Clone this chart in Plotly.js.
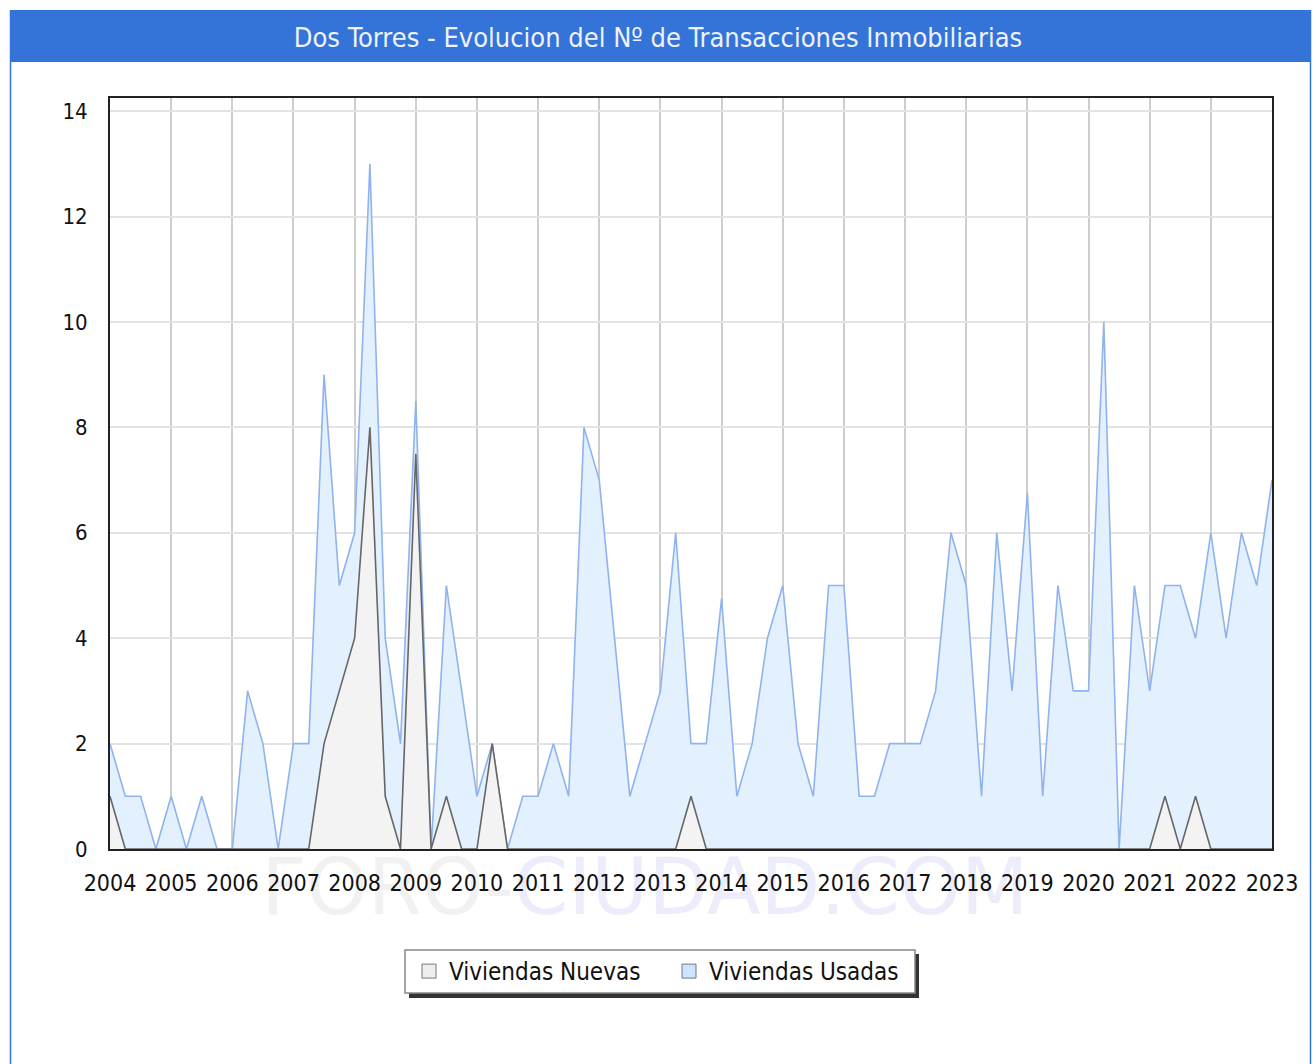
<!DOCTYPE html>
<html>
<head>
<meta charset="utf-8">
<script src="https://cdn.plot.ly/plotly-3.0.1.min.js"></script>
<style>
html,body{margin:0;padding:0;background:#fff;}
#wrap{position:relative;width:1316px;height:1064px;}
#watermark{position:absolute;left:0;top:842px;width:1290px;text-align:center;
  font-family:"DejaVu Sans",sans-serif;font-size:78px;line-height:90px;color:#f1f1f1;z-index:0;white-space:nowrap;}
#watermark span{color:#ececfb;}
#chart{position:absolute;left:0;top:0;width:1316px;height:1064px;z-index:1;}
</style>
</head>
<body>
<div id="wrap">
<div id="watermark">FORO-<span>CIUDAD.COM</span></div>
<div id="chart"></div>
</div>
<script>
// Quarterly periods (x positions in years)
const periods = [
 2004.00,2004.25,2004.50,2004.75,2005.00,2005.25,2005.50,2005.75,
 2006.00,2006.25,2006.50,2006.75,2007.00,2007.25,2007.50,2007.75,
 2008.00,2008.25,2008.50,2008.75,2009.00,2009.25,2009.50,2009.75,
 2010.00,2010.25,2010.50,2010.75,2011.00,2011.25,2011.50,2011.75,
 2012.00,2012.25,2012.50,2012.75,2013.00,2013.25,2013.50,2013.75,
 2014.00,2014.25,2014.50,2014.75,2015.00,2015.25,2015.50,2015.75,
 2016.00,2016.25,2016.50,2016.75,2017.00,2017.25,2017.50,2017.75,
 2018.00,2018.25,2018.50,2018.75,2019.00,2019.25,2019.50,2019.75,
 2020.00,2020.25,2020.50,2020.75,2021.00,2021.25,2021.50,2021.75,
 2022.00,2022.25,2022.50,2022.75,2023.00
];

const viviendasUsadas = [
 2,1,1,0,1,0,1,0,
 0,3,2,0,2,2,9,5,
 6,13,4,2,8.5,0,5,3,
 1,2,0,1,1,2,1,8,
 7,4,1,2,3,6,2,2,
 4.75,1,2,4,5,2,1,5,
 5,1,1,2,2,2,3,6,
 5,1,6,3,6.75,1,5,3,
 3,10,0,5,3,5,5,4,
 6,4,6,5,7
];

const viviendasNuevas = [
 1,0,0,0,0,0,0,0,
 0,0,0,0,0,0,2,3,
 4,8,1,0,7.5,0,1,0,
 0,2,0,0,0,0,0,0,
 0,0,0,0,0,0,1,0,
 0,0,0,0,0,0,0,0,
 0,0,0,0,0,0,0,0,
 0,0,0,0,0,0,0,0,
 0,0,0,0,0,1,0,1,
 0,0,0,0,0
];

const yearTicks = [2004,2005,2006,2007,2008,2009,2010,2011,2012,2013,2014,2015,2016,2017,2018,2019,2020,2021,2022,2023];
const seriesNames = ['Viviendas Nuevas','Viviendas Usadas'];
const chartTitle = 'Dos Torres - Evolucion del Nº de Transacciones Inmobiliarias';

// layout geometry (pixels)
const W = 1316, H = 1064;
const PL = 110, PR = 1272, PT = 98, PB = 849;
const px = v => (v - PL) / (PR - PL);
const py = v => (PB - v) / (PB - PT);

const FONT = '"DejaVu Sans Condensed", "DejaVu Sans", sans-serif';

const traces = [
  {
    x: periods, y: viviendasUsadas, name: seriesNames[1], showlegend: false,
    type: 'scatter', mode: 'lines', fill: 'tozeroy',
    line: {color: '#8fb3ee', width: 1.6},
    fillcolor: '#e3f0fd'
  },
  {
    x: periods, y: viviendasNuevas, name: seriesNames[0], showlegend: false,
    type: 'scatter', mode: 'lines', fill: 'tozeroy',
    line: {color: '#666666', width: 1.6},
    fillcolor: '#f3f3f3'
  },
  // legend swatches
  {
    x: [null], y: [null], name: seriesNames[0], type: 'scatter', mode: 'markers',
    marker: {symbol: 'square', size: 14, color: '#eeeeee', line: {color: '#777777', width: 1}}
  },
  {
    x: [null], y: [null], name: seriesNames[1], type: 'scatter', mode: 'markers',
    marker: {symbol: 'square', size: 14, color: '#cce4ff', line: {color: '#777777', width: 1}}
  }
];

const layout = {
  width: W, height: H,
  margin: {l: PL, r: W - PR, t: PT, b: H - PB, pad: 0},
  paper_bgcolor: 'rgba(0,0,0,0)',
  plot_bgcolor: '#ffffff',
  showlegend: true,
  title: {
    text: chartTitle,
    font: {family: FONT, size: 27, color: '#eef2ff'},
    x: px(658), xref: 'paper', xanchor: 'center',
    y: 1 - 38 / H, yref: 'container', yanchor: 'middle'
  },
  xaxis: {
    range: [2004, 2023],
    tickmode: 'array', tickvals: yearTicks, ticktext: yearTicks.map(String),
    showgrid: true, gridcolor: '#cdcdcd', gridwidth: 2,
    showline: true, linecolor: '#222222', linewidth: 2, mirror: true,
    ticks: 'outside', ticklen: 12, tickcolor: 'rgba(0,0,0,0)',
    tickfont: {family: FONT, size: 23, color: '#111111'},
    zeroline: false, fixedrange: true
  },
  yaxis: {
    range: [0, 14.25],
    tickmode: 'linear', tick0: 0, dtick: 2,
    showgrid: true, gridcolor: '#e3e3e3', gridwidth: 2,
    showline: true, linecolor: '#222222', linewidth: 2, mirror: true,
    ticks: 'outside', ticklen: 16, tickcolor: 'rgba(0,0,0,0)',
    tickfont: {family: FONT, size: 22, color: '#111111'},
    zeroline: false, fixedrange: true
  },
  legend: {
    orientation: 'h', traceorder: 'normal',
    x: px(409), xanchor: 'left', xref: 'paper',
    y: py(971.5), yanchor: 'middle', yref: 'paper',
    entrywidth: 215, entrywidthmode: 'pixels',
    bgcolor: 'rgba(0,0,0,0)', borderwidth: 0,
    font: {family: FONT, size: 24, color: '#111111'}
  },
  shapes: [
    // title band
    {type: 'rect', xref: 'paper', yref: 'paper', layer: 'above',
     x0: px(10), x1: px(1311), y0: py(10), y1: py(62),
     fillcolor: '#3473d8', line: {width: 0}},
    // outer frame
    {type: 'line', xref: 'paper', yref: 'paper', x0: px(10.5), x1: px(10.5), y0: py(10), y1: py(1070),
     line: {color: '#3473d8', width: 1.5}},
    {type: 'line', xref: 'paper', yref: 'paper', x0: px(1310.5), x1: px(1310.5), y0: py(10), y1: py(1070),
     line: {color: '#3473d8', width: 1.5}},
    // legend shadow
    {type: 'rect', xref: 'paper', yref: 'paper', layer: 'above',
     x0: px(409), x1: px(919), y0: py(954), y1: py(998),
     fillcolor: '#333333', line: {width: 0}},
    // legend box
    {type: 'rect', xref: 'paper', yref: 'paper', layer: 'above',
     x0: px(405), x1: px(915), y0: py(950), y1: py(993),
     fillcolor: '#ffffff', line: {color: '#888888', width: 1.5}}
  ]
};

Plotly.newPlot('chart', traces, layout, {displayModeBar: false, staticPlot: true});
</script>
</body>
</html>
